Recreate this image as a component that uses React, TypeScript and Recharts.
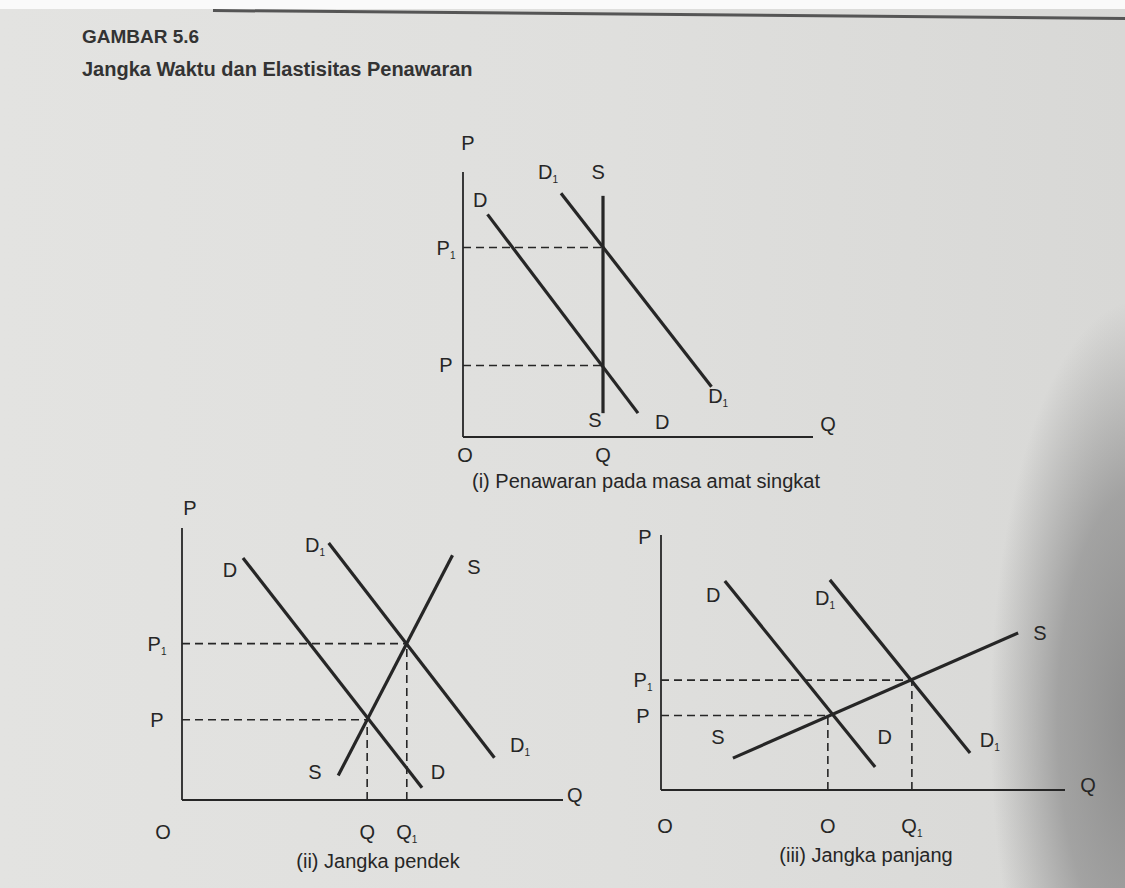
import React from "react";
import { LineChart, Line, XAxis, YAxis, ReferenceLine, ReferenceDot } from "recharts";

// ---- data (quantity q, price p, arbitrary units 0..10) ----
// (i) very short run
const shortestD = [{ q: 0.7, p: 8.4 }, { q: 5.0, p: 0.9 }];
const shortestD1 = [{ q: 2.8, p: 9.2 }, { q: 7.1, p: 1.9 }];
const shortestS = [{ q: 4.0, p: 9.1 }, { q: 4.0, p: 0.9 }];
const shortestPrices = [2.7, 7.15];
const shortestPriceNames = ["P", "P1"];
const shortestQty = [4.0];
const shortestQtyNames = ["Q"];

// (ii) short run
const shortD = [{ q: 1.6, p: 8.9 }, { q: 6.3, p: 0.45 }];
const shortD1 = [{ q: 3.85, p: 9.45 }, { q: 8.2, p: 1.55 }];
const shortS = [{ q: 4.1, p: 0.9 }, { q: 7.1, p: 9.0 }];
const shortPrices = [2.95, 5.75];
const shortPriceNames = ["P", "P1"];
const shortQty = [4.86, 5.9];
const shortQtyNames = ["Q", "Q1"];

// (iii) long run
const longD = [{ q: 1.58, p: 8.2 }, { q: 5.3, p: 0.9 }];
const longD1 = [{ q: 4.18, p: 8.24 }, { q: 7.65, p: 1.45 }];
const longS = [{ q: 1.78, p: 1.25 }, { q: 8.84, p: 6.16 }];
const longPrices = [2.92, 4.31];
const longPriceNames = ["P", "P1"];
const longQty = [4.13, 6.21];
const longQtyNames = ["O", "Q1"];

// curve / axis labels
const shortestLabels = [
  { t: "P", q: 0.14, p: 11.1 },
  { t: "D1", q: 2.43, p: 10.0 },
  { t: "S", q: 3.86, p: 10.0 },
  { t: "D", q: 0.49, p: 8.94 },
  { t: "D1", q: 7.29, p: 1.55 },
  { t: "S", q: 3.77, p: 0.64 },
  { t: "D", q: 5.69, p: 0.57 },
  { t: "Q", q: 10.43, p: 0.49 },
  { t: "O", q: 0.06, p: -0.68 },
];
const shortLabels = [
  { t: "P", q: 0.21, p: 10.74 },
  { t: "D1", q: 3.49, p: 9.38 },
  { t: "D", q: 1.26, p: 8.46 },
  { t: "S", q: 7.66, p: 8.57 },
  { t: "D1", q: 8.87, p: 2.02 },
  { t: "S", q: 3.49, p: 1.03 },
  { t: "D", q: 6.72, p: 1.03 },
  { t: "Q", q: 10.31, p: 0.18 },
  { t: "O", q: -0.5, p: -1.18 },
];
const longLabels = [
  { t: "P", q: -0.4, p: 9.92 },
  { t: "D", q: 1.29, p: 7.65 },
  { t: "D1", q: 4.06, p: 7.53 },
  { t: "S", q: 9.38, p: 6.16 },
  { t: "S", q: 1.41, p: 2.08 },
  { t: "D", q: 5.54, p: 2.08 },
  { t: "D1", q: 8.14, p: 1.96 },
  { t: "Q", q: 10.57, p: 0.2 },
  { t: "O", q: 0.1, p: -1.41 },
];

const FONT = "'Liberation Sans', Arial, sans-serif";
const INK = "#262626";

function SubText({ x, y, text, size = 20 }: { x: number; y: number; text: string; size?: number }) {
  const main = text.replace(/1$/, "");
  const sub = text.endsWith("1") && text.length > 1;
  return (
    <text x={x} y={y} textAnchor="middle" dominantBaseline="central" fontFamily={FONT} fontSize={size} fill={INK}>
      {main}
      {sub && (
        <tspan fontSize={10} dy={7}>
          1
        </tspan>
      )}
    </text>
  );
}

type Pt = { q: number; p: number };

function Panel({
  left, top, w, h, d, d1, s, prices, priceNames, qty, qtyNames, labels, tickDx, tickDy, vFrom,
}: {
  left: number; top: number; w: number; h: number;
  d: Pt[]; d1: Pt[]; s: Pt[];
  prices: number[]; priceNames: string[]; qty: number[]; qtyNames: string[];
  labels: { t: string; q: number; p: number }[];
  tickDx: number; tickDy: number; vFrom: number[];
}) {
  const mTop = 40;
  const yW = 40;
  const xH = 50;
  const mRight = 40;
  return (
    <div style={{ position: "absolute", left: left - yW, top: top - mTop }}>
      <LineChart width={w + yW + mRight} height={h + mTop + xH} margin={{ top: mTop, right: mRight, left: 0, bottom: 0 }}>
        <XAxis
          type="number"
          dataKey="q"
          domain={[0, 10]}
          height={xH}
          ticks={qty}
          tickSize={0}
          tickMargin={0}
          axisLine={{ stroke: INK, strokeWidth: 1.8 }}
          tickLine={false}
          allowDataOverflow
          tick={(pr: any) => (
            <SubText key={pr.index} x={pr.x} y={pr.y + tickDy} text={qtyNames[pr.index]} />
          )}
        />
        <YAxis
          type="number"
          dataKey="p"
          domain={[0, 10]}
          width={yW}
          ticks={prices}
          tickSize={0}
          tickMargin={0}
          axisLine={{ stroke: INK, strokeWidth: 1.8 }}
          tickLine={false}
          allowDataOverflow
          tick={(pr: any) => (
            <SubText key={pr.index} x={pr.x - tickDx} y={pr.y} text={priceNames[pr.index]} />
          )}
        />
        {prices.map((p, i) => (
          <ReferenceLine
            key={"h" + i}
            segment={[{ x: 0, y: p }, { x: qty[i] ?? qty[0], y: p }]}
            stroke={INK}
            strokeWidth={1.6}
            strokeDasharray="8 5"
          />
        ))}
        {vFrom.map((p, i) => (
          <ReferenceLine
            key={"v" + i}
            segment={[{ x: qty[i], y: 0 }, { x: qty[i], y: p }]}
            stroke={INK}
            strokeWidth={1.6}
            strokeDasharray="8 5"
          />
        ))}
        <Line data={d} dataKey="p" stroke={INK} strokeWidth={3.2} dot={false} isAnimationActive={false} />
        <Line data={d1} dataKey="p" stroke={INK} strokeWidth={3.2} dot={false} isAnimationActive={false} />
        <Line data={s} dataKey="p" stroke={INK} strokeWidth={3.2} dot={false} isAnimationActive={false} />
        {labels.map((l, i) => (
          <ReferenceDot
            key={"l" + i}
            x={l.q}
            y={l.p}
            r={0}
            fill="none"
            stroke="none"
            ifOverflow="visible"
            label={{
              content: (lp: any) => {
                const vb = lp.viewBox || {};
                return <SubText x={vb.x + (vb.width || 0) / 2} y={vb.y + (vb.height || 0) / 2} text={l.t} />;
              },
            }}
          />
        ))}
      </LineChart>
    </div>
  );
}

const caption: React.CSSProperties = {
  position: "absolute",
  fontFamily: FONT,
  fontSize: 20,
  color: INK,
  whiteSpace: "nowrap",
  transform: "translateX(-50%)",
};

export default function App() {
  return (
    <div
      style={{
        position: "absolute",
        left: 0,
        top: 0,
        width: 1125,
        height: 888,
        overflow: "hidden",
        background:
          "radial-gradient(ellipse 150px 420px at 1140px 720px, rgba(130,130,130,0.9), rgba(140,140,140,0.7) 55%, rgba(200,200,200,0) 100%), linear-gradient(90deg, #e3e3e1 0%, #dfdfdd 55%, #d8d8d6 100%)",
      }}
    >
      <div style={{ position: "absolute", left: 0, top: 0, width: 1125, height: 9, background: "#fafafa" }} />
      <div style={{ position: "absolute", left: 213, top: 9, width: 920, height: 3, background: "#555", transform: "rotate(0.5deg)", transformOrigin: "0 0" }} />
      <div style={{ position: "absolute", left: 82, top: 26, fontFamily: FONT, fontSize: 19, fontWeight: 600, color: "#333" }}>
        GAMBAR 5.6
      </div>
      <div style={{ position: "absolute", left: 82, top: 58, fontFamily: FONT, fontSize: 20, fontWeight: 600, color: "#333" }}>
        Jangka Waktu dan Elastisitas Penawaran
      </div>

      <Panel
        left={463} top={172} w={350} h={265}
        d={shortestD} d1={shortestD1} s={shortestS}
        prices={shortestPrices} priceNames={shortestPriceNames}
        qty={shortestQty} qtyNames={shortestQtyNames}
        labels={shortestLabels} tickDx={17} tickDy={18} vFrom={[]}
      />
      <div style={{ ...caption, left: 646, top: 470 }}>(i) Penawaran pada masa amat singkat</div>

      <Panel
        left={182} top={528} w={381} h={272}
        d={shortD} d1={shortD1} s={shortS}
        prices={shortPrices} priceNames={shortPriceNames}
        qty={shortQty} qtyNames={shortQtyNames}
        labels={shortLabels} tickDx={25} tickDy={32} vFrom={shortPrices}
      />
      <div style={{ ...caption, left: 378, top: 850 }}>(ii) Jangka pendek</div>

      <Panel
        left={661} top={535} w={404} h={255}
        d={longD} d1={longD1} s={longS}
        prices={longPrices} priceNames={longPriceNames}
        qty={longQty} qtyNames={longQtyNames}
        labels={longLabels} tickDx={18} tickDy={36} vFrom={longPrices}
      />
      <div style={{ ...caption, left: 866, top: 844 }}>(iii) Jangka panjang</div>
    </div>
  );
}
